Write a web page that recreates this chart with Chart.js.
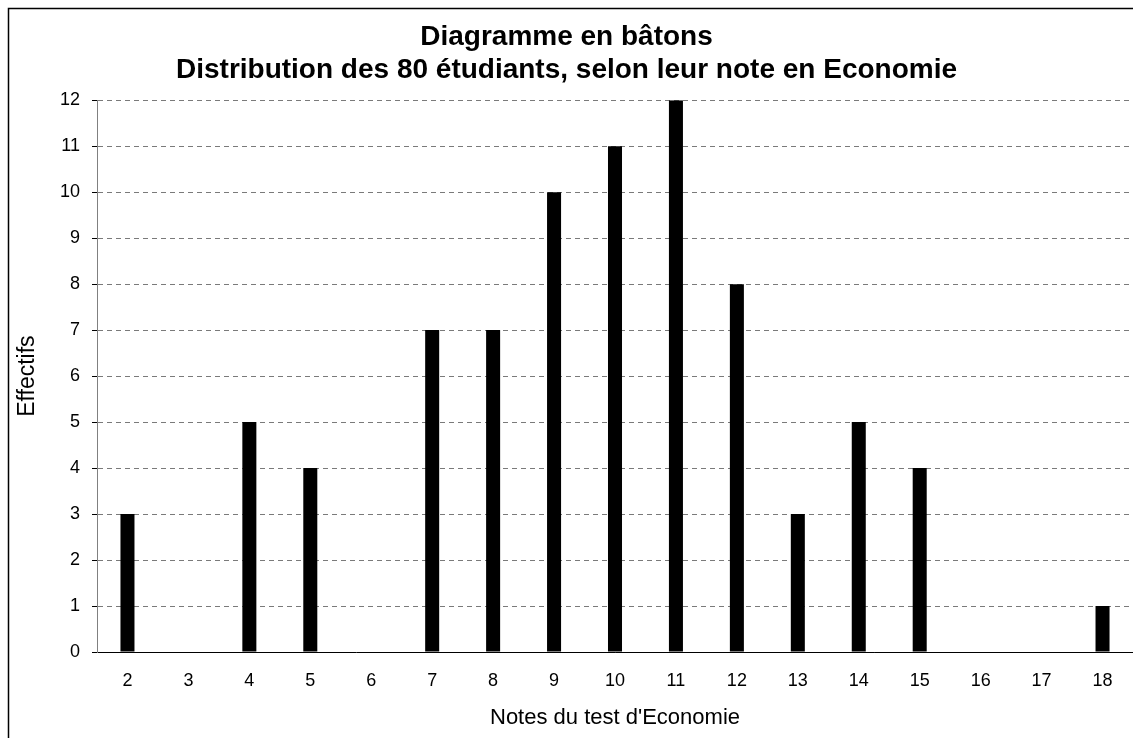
<!DOCTYPE html>
<html>
<head>
<meta charset="utf-8">
<script src="https://cdn.jsdelivr.net/npm/chart.js@4.4.0/dist/chart.umd.min.js"></script>
<style>
  html, body { margin: 0; padding: 0; background: #fff; }
  #wrap { width: 1133px; height: 738px; }
</style>
</head>
<body>
<div id="wrap"><canvas id="barChart" width="1133" height="738"></canvas></div>
<script>
// notes (catégories) et effectifs
const notes = ["2", "3", "4", "5", "6", "7", "8", "9", "10", "11", "12", "13", "14", "15", "16", "17", "18"];
const effectifs = [3, 0, 5, 4, 0, 7, 7, 10, 11, 12, 8, 3, 5, 4, 0, 0, 1];
const titleLines = ["Diagramme en bâtons", "Distribution des 80 étudiants, selon leur note en Economie"];
const yMax = 12;

// cadre autour du graphique (bords haut et gauche visibles)
const framePlugin = {
    id: 'frame',
    beforeDraw(chart) {
        const ctx = chart.ctx;
        ctx.save();
        ctx.strokeStyle = '#000';
        ctx.lineWidth = 1.5;
        ctx.beginPath();
        ctx.moveTo(8.5, chart.height + 2);
        ctx.lineTo(8.5, 8.5);
        ctx.lineTo(chart.width + 2, 8.5);
        ctx.stroke();
        ctx.restore();
    }
};

Chart.defaults.font.family = '"Liberation Sans", Arial, sans-serif';
Chart.defaults.color = '#000';

const ctx = document.getElementById('barChart').getContext('2d');
new Chart(ctx, {
    type: 'bar',
    data: {
        labels: notes,
        datasets: [{
            data: effectifs,
            backgroundColor: '#000',
            borderWidth: 0,
            barPercentage: 0.23,
            categoryPercentage: 1.0
        }]
    },
    options: {
        responsive: false,
        animation: false,
        layout: { padding: 0 },
        plugins: {
            legend: { display: false },
            tooltip: { enabled: false },
            title: {
                display: true,
                text: titleLines,
                color: '#000',
                font: { size: 28, weight: 'bold' },
                lineHeight: 1.18,
                padding: { top: 20, bottom: 13 }
            }
        },
        scales: {
            x: {
                afterFit(scale) { scale.height = 86; },
                grid: { display: false },
                border: { color: '#000', width: 1 },
                ticks: { font: { size: 18 }, padding: 10, maxRotation: 0 },
                title: {
                    display: true,
                    text: "Notes du test d'Economie",
                    font: { size: 22 },
                    padding: { top: 0, bottom: 7 }
                }
            },
            y: {
                min: 0,
                max: yMax,
                afterFit(scale) { scale.width = 97; },
                grid: {
                    color: '#7a7a7a',
                    tickColor: '#000',
                    tickLength: 5,
                    tickBorderDash: [],
                    drawOnChartArea: true
                },
                border: { color: '#808080', width: 1, dash: [5, 4] },
                ticks: { stepSize: 1, font: { size: 18 }, padding: 12 },
                title: {
                    display: true,
                    text: 'Effectifs',
                    font: { size: 23 },
                    padding: { top: 14, bottom: 0 }
                }
            }
        }
    },
    plugins: [framePlugin]
});
</script>
</body>
</html>
